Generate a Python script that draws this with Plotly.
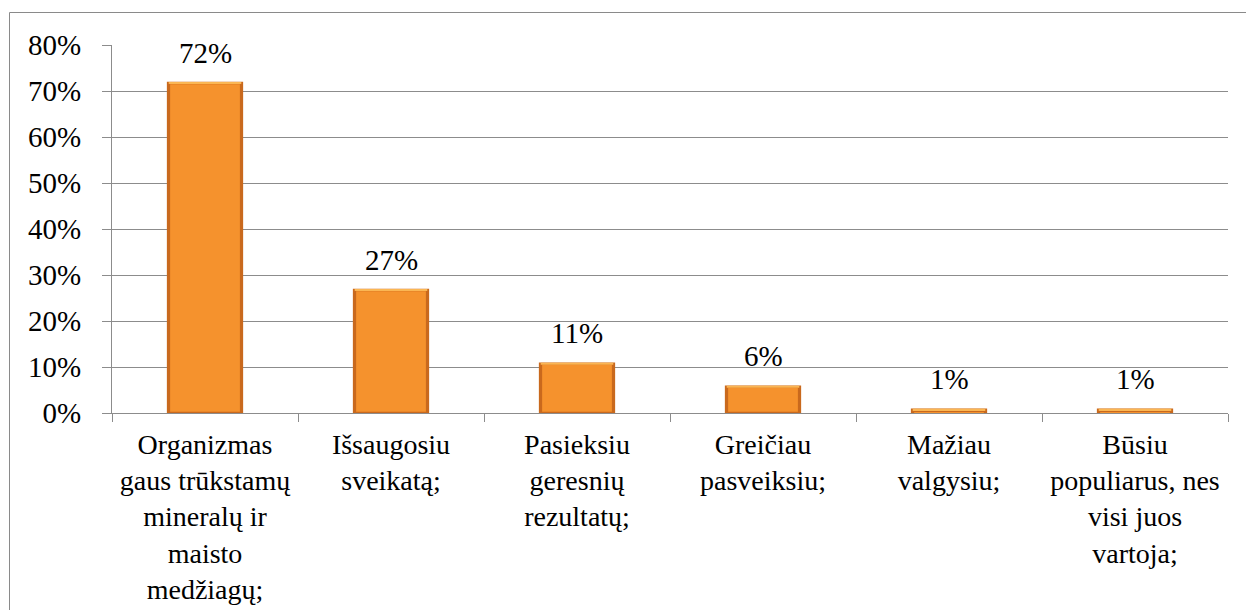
import plotly.graph_objects as go

# Survey answers and their shares (%)
categories = [
    "Organizmas<br>gaus trūkstamų<br>mineralų ir<br>maisto<br>medžiagų;",
    "Išsaugosiu<br>sveikatą;",
    "Pasieksiu<br>geresnių<br>rezultatų;",
    "Greičiau<br>pasveiksiu;",
    "Mažiau<br>valgysiu;",
    "Būsiu<br>populiarus, nes<br>visi juos<br>vartoja;",
]
values = [72, 27, 11, 6, 1, 1]
y_ticks = [0, 10, 20, 30, 40, 50, 60, 70, 80]
y_tick_labels = [f"{t}%" for t in y_ticks]

FONT = "'Liberation Serif', 'DejaVu Serif', 'Times New Roman', serif"
GRID = "#8c8c8c"

W, H = 1246, 610
ML, MR, MT, MB = 112, 18, 45, 197
plot_w = W - ML - MR
plot_h = H - MT - MB

fig = go.Figure()

# dark outer body of each bar (bevel edge)
fig.add_trace(go.Bar(
    x=categories, y=values, width=0.41,
    marker=dict(color="#c9691d", line=dict(width=0)),
    hoverinfo="skip",
))
# lighter inner face
inner = [max(v - 0.55, 0.05) for v in values]
fig.add_trace(go.Bar(
    x=categories, y=[i - 0.25 if i > 0.3 else i for i in inner],
    base=[0.25 if v > 1 else 0.0 for v in values], width=0.375,
    marker=dict(color="#f5922d", line=dict(width=0)), hoverinfo="skip",
))
# bright top bevel strip
fig.add_trace(go.Bar(
    x=categories, y=[0.45 if v > 1 else 0.3 for v in values],
    base=[v - 0.5 if v > 1 else v - 0.35 for v in values], width=0.39,
    marker=dict(color="#fbb653", line=dict(width=0)), hoverinfo="skip",
))

# value labels above the bars
for cat, v in zip(categories, values):
    fig.add_annotation(
        x=cat, y=v, text=f"{v}%", showarrow=False,
        xanchor="center", yanchor="bottom", yshift=11,
        font=dict(family=FONT, size=29, color="#000000"),
    )

fig.update_layout(
    width=W, height=H,
    margin=dict(l=ML, r=MR, t=MT, b=MB, pad=0),
    barmode="overlay",
    paper_bgcolor="white", plot_bgcolor="white",
    showlegend=False,
    font=dict(family=FONT, size=29, color="#000000"),
    xaxis=dict(
        type="category",
        automargin=False,
        tickson="boundaries",
        ticks="outside", ticklen=8, tickcolor=GRID, tickwidth=1,
        showline=True, linecolor=GRID, linewidth=1,
        showgrid=False,
        ticklabelstandoff=6,
        tickfont=dict(family=FONT, size=28, color="#000000"),
        tickangle=0,
    ),
    yaxis=dict(
        range=[0, 80], autorange=False,
        automargin=False,
        tickvals=y_ticks, ticktext=y_tick_labels,
        ticks="outside", ticklen=9, tickcolor=GRID, tickwidth=1,
        showline=True, linecolor=GRID, linewidth=1,
        showgrid=True, gridcolor=GRID, gridwidth=1,
        zeroline=False,
        ticklabelstandoff=15,
        tickfont=dict(family=FONT, size=29, color="#000000"),
    ),
)

# chart frame (top and left edges visible; right/bottom run past the page)
fig.add_shape(
    type="rect", xref="paper", yref="paper",
    x0=(9.5 - ML) / plot_w, x1=(W + 3 - ML) / plot_w,
    y0=-(H + 3 - MT - plot_h) / plot_h, y1=1 + (MT - 12.5) / plot_h,
    line=dict(color="#8a8a8a", width=1), fillcolor="rgba(0,0,0,0)",
    layer="below",
)

fig.write_html("out.html")
